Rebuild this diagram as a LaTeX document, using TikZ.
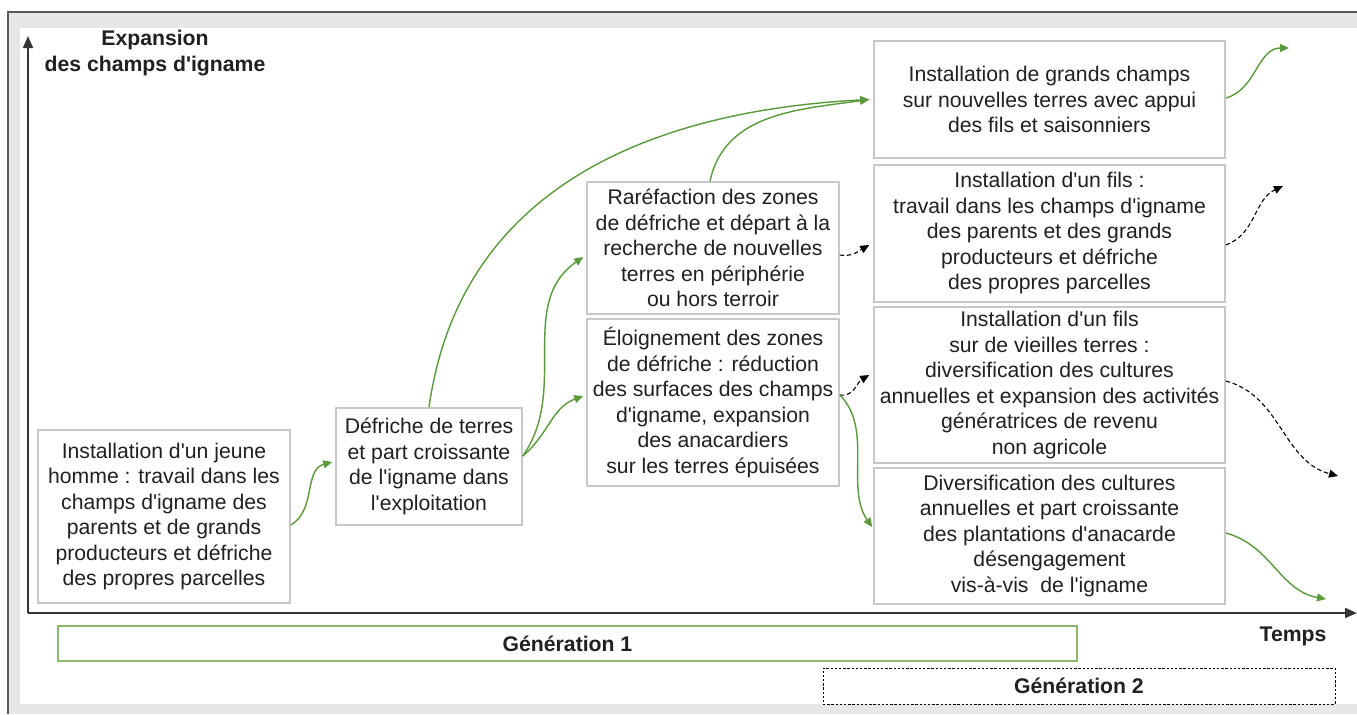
\documentclass[tikz,border=0pt]{standalone}
\usepackage{fontspec}
\setmainfont{Liberation Sans}[Ligatures=TeXOff]
\usetikzlibrary{arrows.meta}
\definecolor{framegray}{HTML}{E6E7E8}
\definecolor{frameline}{HTML}{58595B}
\definecolor{boxgray}{HTML}{C8C8C8}
\definecolor{arrowgreen}{HTML}{5A9A3A}
\definecolor{barGreen}{HTML}{8CB86E}
\definecolor{inkgray}{HTML}{231F20}
\newcommand\boxfont{\fontsize{10.6}{12.75}\selectfont}
\tikzset{
  stage/.style={draw=boxgray, line width=0.8pt, fill=white, align=center, inner sep=0pt, text=inkgray, font=\boxfont},
  greenlink/.style={draw=arrowgreen, line width=0.7pt, -{Triangle[length=4.5pt,width=4pt]}, fill=none},
  dashlink/.style={draw=black, line width=0.55pt, dash pattern=on 2.2pt off 1.4pt, -{Triangle[length=4.5pt,width=4pt]}},
  axisline/.style={draw=frameline!60!black, line width=0.9pt, -{Triangle[length=6pt,width=5pt]}},
  genbar/.style={align=center, inner sep=0pt, text=inkgray, font=\boxfont\bfseries}
}
\begin{document}
\begin{tikzpicture}[x=0.5pt, y=-0.5pt]
        \useasboundingbox (0,0) rectangle (1357,714);
        \fill[framegray] (8,12) rectangle (1357,714);
        \fill[white] (20,28) rectangle (1357,704);
        \draw[frameline, line width=1pt] (8,714) -- (8,12) -- (1357,12);

        \coordinate (O) at (28,613);
        \coordinate (Ytop) at (28,36);
        \coordinate (Xend) at (1357,613);
        \draw[axisline] (O) -- (Ytop);
        \draw[axisline] (O) -- (Xend);

        \node (ylab) at (155,53) [genbar] {Expansion\\des champs d'igname};
        \node (xlab) at (1293,636) [genbar] {Temps};

        \node (gen1) at (567.5,643.5) [genbar, draw=barGreen, line width=0.8pt, minimum width=509.5pt, minimum height=17.5pt] {Génération 1};
        \node (gen2) at (1079,686) [genbar, draw=black, line width=0.5pt, dash pattern=on 1.2pt off 0.9pt, minimum width=256pt, minimum height=18pt] {Génération 2};

        \node (jeune) at (164,516.5) [stage, minimum width=126pt, minimum height=86.5pt] {Installation d'un jeune\\homme : travail dans les\\champs d'igname des\\parents et de grands\\producteurs et défriche\\des propres parcelles};
        \node (defriche) at (429,466.5) [stage, minimum width=93pt, minimum height=58.5pt] {Défriche de terres\\et part croissante\\de l'igname dans\\l'exploitation};
        \node (rarefaction) at (713,248) [stage, minimum width=126pt, minimum height=66pt] {Raréfaction des zones\\de défriche et départ à la\\recherche de nouvelles\\terres en périphérie\\ou hors terroir};
        \node (eloignement) at (713,402.5) [stage, minimum width=126pt, minimum height=83.5pt] {Éloignement des zones\\de défriche : réduction\\des surfaces des champs\\d'igname, expansion\\des anacardiers\\sur les terres épuisées};
        \node (grands) at (1049.5,99.5) [stage, minimum width=175.5pt, minimum height=58.5pt] {Installation de grands champs\\sur nouvelles terres avec appui\\des fils et saisonniers};
        \node (filsA) at (1049.5,233.5) [stage, minimum width=175.5pt, minimum height=68.5pt] {Installation d'un fils :\\travail dans les champs d'igname\\des parents et des grands\\producteurs et défriche\\des propres parcelles};
        \node (filsB) at (1049.5,385) [stage, minimum width=175.5pt, minimum height=78pt] {Installation d'un fils\\sur de vieilles terres :\\diversification des cultures\\annuelles et expansion des activités\\génératrices de revenu\\non agricole};
        \node (diversif) at (1049.5,536) [stage, minimum width=175.5pt, minimum height=68pt] {Diversification des cultures\\annuelles et part croissante\\des plantations d'anacarde\\désengagement\\vis-à-vis~ de l'igname};

        \coordinate (suiteA) at (1289,48);
        \coordinate (suiteB) at (1283,186);
        \coordinate (suiteC) at (1338,476);
        \coordinate (suiteD) at (1326,599);

        \draw[greenlink] ([yshift=-4.25pt]jeune.east) to[out=30, in=195] ([yshift=2.25pt, xshift=-1.5pt]defriche.west);
        \draw[greenlink] ([yshift=5.25pt]defriche.east) to[out=55, in=215] ([yshift=-4.5pt, xshift=-1.5pt]rarefaction.west);
        \draw[greenlink] ([yshift=5.25pt]defriche.east) to[out=40, in=200] ([yshift=3.25pt, xshift=-1.5pt]eloignement.west);
        \draw[greenlink] (defriche.north) to[out=82, in=183, looseness=1.05] ([xshift=-2pt]grands.west);
        \draw[greenlink] ([xshift=-1.5pt]rarefaction.north) to[out=78, in=188] ([xshift=-2pt]grands.west);
        \draw[dashlink] ([yshift=-3.5pt]rarefaction.east) to[out=-10, in=210] ([yshift=-5.75pt, xshift=-2pt]filsA.west);
        \draw[dashlink] ([yshift=3.75pt]eloignement.east) to[out=-10, in=210] ([yshift=5pt, xshift=-2pt]filsB.west);
        \draw[greenlink] ([yshift=3.75pt]eloignement.east) to[out=-45, in=125, looseness=0.9] ([yshift=4.5pt, xshift=-0.5pt]diversif.west);

        \draw[greenlink] ([yshift=0.75pt]grands.east) to[out=15, in=180] (suiteA);
        \draw[dashlink] ([yshift=-5.75pt]filsA.east) to[out=20, in=205] (suiteB);
        \draw[dashlink] ([yshift=2pt]filsB.east) to[out=-15, in=165] (suiteC);
        \draw[greenlink] ([yshift=1.5pt]diversif.east) to[out=-15, in=170] (suiteD);
    \end{tikzpicture}
\end{document}
